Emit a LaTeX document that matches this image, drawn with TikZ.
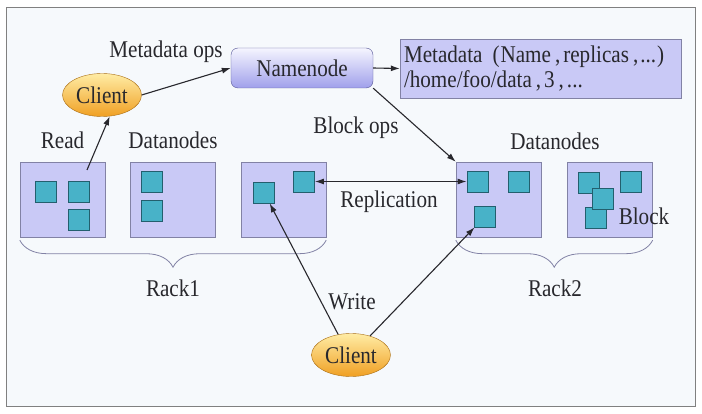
\documentclass[tikz,border=0pt]{standalone}
\usepackage{fontspec}
\setmainfont[FakeStretch=0.88]{Liberation Serif}
\usetikzlibrary{positioning,shapes.geometric,decorations.pathreplacing,arrows.meta}
\definecolor{boxfill}{RGB}{201,201,246}
\definecolor{boxline}{RGB}{130,130,165}
\definecolor{blockfill}{RGB}{72,178,200}
\definecolor{blockline}{RGB}{35,95,110}
\definecolor{bgfill}{RGB}{246,249,252}
\definecolor{textgray}{RGB}{40,40,45}

\begin{document}
\begin{tikzpicture}[
        x=1pt, y=-1pt,
        font=\rmfamily\fontsize{24}{25}\selectfont,
        data_box/.style={rectangle,draw=boxline,fill=boxfill,minimum width=85pt,minimum height=75pt,inner sep=0pt},
        block/.style={rectangle,draw=blockline,fill=blockfill,minimum size=21pt,inner sep=0pt,line width=0.8pt},
        client_node/.style={ellipse,draw={rgb,255:red,170;green,110;blue,20},top color={rgb,255:red,255;green,236;blue,165},bottom color={rgb,255:red,240;green,160;blue,35},minimum width=79pt,minimum height=43pt,inner sep=0pt,text=textgray},
        name_node/.style={rectangle,rounded corners=7pt,draw={rgb,255:red,85;green,85;blue,150},top color={rgb,255:red,245;green,245;blue,255},bottom color={rgb,255:red,160;green,160;blue,235},minimum width=142pt,minimum height=40pt,inner sep=0pt,text=textgray},
        arr/.style={-{Latex[length=9pt,width=6pt]},line width=1.1pt,draw=textgray},
        rack_brace/.style={draw=boxline,line width=0.8pt,decorate,decoration={brace,mirror,amplitude=27pt}},
        tag_text/.style={text=textgray}
    ]

    % Frame
    \fill[white] (0,0) rectangle (702,414);
    \draw[gray,fill=bgfill] (6,7) rectangle (695,406);

    % Namenode, metadata and client
    \node[name_node] (namenode) at (302,68) {Namenode};
    \node[rectangle,draw=boxline,fill=boxfill,minimum width=281pt,minimum height=59pt,
          text width=273pt,inner sep=4pt,align=left,text=textgray] (meta) at (540.5,68.5)
        {Metadata\hspace{10pt}(\hspace{1pt}Name\hspace{4pt},\hspace{3pt}replicas\hspace{4pt},\hspace{2pt}...\hspace{1pt})\\
         /home/foo/data\hspace{4pt},\hspace{3pt}3\hspace{4pt},\hspace{3pt}...};
    \node[client_node] (client1) at (102,95) {Client};
    \node[client_node] (client2) at (351,355) {Client};

    % Datanodes
    \foreach \n/\x in {1/62.5,2/173,3/283.5,4/498.5,5/610}
        \node[data_box] (dn\n) at (\x,199.5) {};

    % Blocks
    \foreach \name/\x/\y in {b11/46/191.5, b12/78.5/191.5, b13/78.5/219.5,
                             b21/152/182, b22/152/210.5,
                             b31/264/192.5, b32/304/181.5,
                             b41/477.5/181.5, b42/519/181.5, b43/485/216.5,
                             b51/589/182.5, b52/630.5/181.5, b53/596/217.5, b54/603/199}
        \node[block] (\name) at (\x,\y) {};

    % Labels
    \node[tag_text] at (166,52) {Metadata ops};
    \node[tag_text,above=10pt of dn1] {Read};
    \node[tag_text,above=10pt of dn2] {Datanodes};
    \node[tag_text] at (555,141) {Datanodes};
    \node[tag_text] at (356,128) {Block ops};
    \node[tag_text] at (389,202) {Replication};
    \node[tag_text] at (644,216) {Block};
    \node[tag_text] at (352,302) {Write};

    % Racks
    \draw[rack_brace] ([yshift=-3pt]dn1.south west) -- ([yshift=-3pt]dn3.south east);
    \draw[rack_brace] ([yshift=-3pt]dn4.south west) -- ([yshift=-3pt]dn5.south east);
    \node[tag_text] at (173,288) {Rack1};
    \node[tag_text] at (555,288) {Rack2};

    % Connectors
    \coordinate (read_start) at (87,170);
    \draw[arr] (client1.east) -- (namenode.west);
    \draw[arr] (namenode.east) -- (meta.west);
    \draw[arr] (namenode.south east) -- (dn4.north west);
    \draw[arr] (read_start) -- (client1.-70);
    \draw[arr,{Latex[length=9pt,width=6pt]}-{Latex[length=9pt,width=6pt]}] (b32.east) -- (b41.west);
    \draw[arr] (client2.122) -- (b31);
    \draw[arr] (client2.45) -- (b43);

\end{tikzpicture}
\end{document}
